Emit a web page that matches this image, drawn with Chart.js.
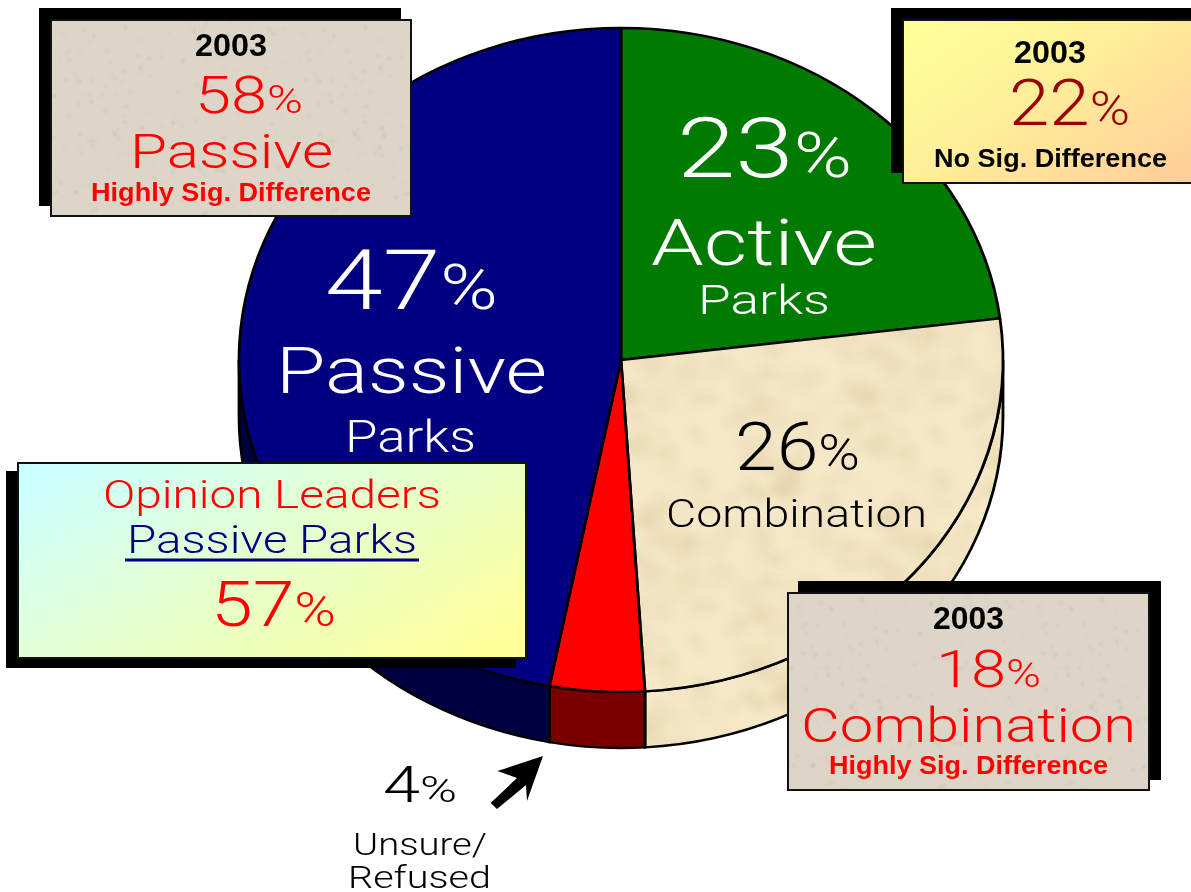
<!DOCTYPE html>
<html>
<head>
<meta charset="utf-8">
<title>Passive and active parks</title>
<script src="https://cdn.jsdelivr.net/npm/chart.js@4"></script>
<style>
html, body { margin: 0; padding: 0; background: #fff; }
#page { position: relative; width: 1191px; height: 892px; overflow: hidden; }
#pie, #labels { position: absolute; left: 0; top: 0; }
.box { position: absolute; box-sizing: border-box; border: 2px solid #111; }
#box1 { left: 50px; top: 19px; width: 362px; height: 198px; box-shadow: -11px -11px 0 #000; }
#box2 { left: 902px; top: 19px; width: 300px; height: 165px; box-shadow: -11px -11px 0 #000;
        background: linear-gradient(145deg, #ffff99 5%, #ffee99 45%, #ffcc99 100%); }
#box3 { left: 17px; top: 462px; width: 510px; height: 197px; box-shadow: -11px 9px 0 #000;
        background: linear-gradient(150deg, #ccffff 5%, #e6ffcc 50%, #ffff99 95%); }
#box4 { left: 787px; top: 592px; width: 363px; height: 199px; box-shadow: 11px -11px 0 #000; }
</style>
</head>
<body>
<div id="page">
  <canvas id="pie" width="1191" height="892"></canvas>
  <div class="box" id="box1"></div>
  <div class="box" id="box2"></div>
  <div class="box" id="box3"></div>
  <div class="box" id="box4"></div>
  <svg id="labels" width="1191" height="892" xmlns="http://www.w3.org/2000/svg">
    <polygon fill="#000" points="543,756 497.5,771 517,778 490.6,803 497,809 526,785 527,801"></polygon>
    <rect x="125" y="558.5" width="294" height="3" fill="#000080"></rect>
  </svg>
</div>
<script>
// survey results
var categories = ['Active', 'Combination', 'Unsure/Refused', 'Passive'];
var shares = [23, 26, 4, 47];
var sliceColors = ['#007a00', null, '#ff0000', '#000080'];
var wallColors = ['#005000', null, '#7a0000', '#000040'];

// 2003 comparison + opinion leaders
var year = '2003';
var passive2003 = 58;
var none2003 = 22;
var combination2003 = 18;
var opinionLeaders = 57;

// paper texture for the beige parts, blotches wrap round so the tile has no seams
function paperTile(base, speck, count, size, blur, strength) {
    var tile = document.createElement('canvas');
    tile.width = tile.height = 240;
    var c = tile.getContext('2d');
    c.fillStyle = base;
    c.fillRect(0, 0, 240, 240);
    c.filter = 'blur(' + blur + 'px)';
    c.fillStyle = speck;
    var seed = 4711;
    function next() {
        seed = (seed * 16807) % 2147483647;
        return seed / 2147483647;
    }
    for (var i = 0; i < count; i++) {
        var x = next() * 240, y = next() * 240, r = 0.5 + next() * size;
        c.globalAlpha = next() * strength;
        [-240, 0, 240].forEach(function (ox) {
            [-240, 0, 240].forEach(function (oy) {
                if (x + ox < -30 || x + ox > 270 || y + oy < -30 || y + oy > 270) return;
                c.beginPath();
                c.arc(x + ox, y + oy, r, 0, Math.PI * 2);
                c.fill();
            });
        });
    }
    return tile;
}

var beigeTile = paperTile('#f6e9c9', '#dcc89c', 220, 14, 5, 0.3);
var greyUrl = 'url(' + paperTile('#ddd6c8', '#b3ada0', 420, 1.6, 1, 0.45).toDataURL() + ')';
document.getElementById('box1').style.backgroundImage = greyUrl;
document.getElementById('box4').style.backgroundImage = greyUrl;

var ctx = document.getElementById('pie').getContext('2d');
var beige = ctx.createPattern(beigeTile, 'repeat');
sliceColors[1] = beige;
wallColors[1] = beige;

var squash = 332 / 382;
var depth = 56 / squash;
var centerY = 360;

// the picture is a tilted pie: squash the arcs and draw the side wall first
var tiltPlugin = {
    id: 'tilt',
    beforeDatasetsDraw: function (chart) {
        var c = chart.ctx;
        var arcs = chart.getDatasetMeta(0).data;
        c.save();
        c.translate(0, centerY - arcs[0].y * squash);
        c.scale(1, squash);
        arcs.forEach(function (arc, i) {
            var a0 = Math.max(arc.startAngle, 0);
            var a1 = Math.min(arc.endAngle, Math.PI);
            if (a1 <= a0) return;
            c.beginPath();
            c.arc(arc.x, arc.y, arc.outerRadius, a0, a1);
            c.arc(arc.x, arc.y + depth, arc.outerRadius, a1, a0, true);
            c.closePath();
            c.fillStyle = wallColors[i];
            c.fill();
            c.lineWidth = 2.8;
            c.strokeStyle = '#000';
            c.stroke();
        });
    },
    afterDatasetsDraw: function (chart) {
        chart.ctx.restore();
    }
};

new Chart(ctx, {
    type: 'pie',
    data: {
        labels: categories,
        datasets: [{
            data: shares,
            backgroundColor: sliceColors,
            borderColor: '#000',
            borderWidth: 2.8,
            radius: 382,
            clip: false
        }]
    },
    options: {
        responsive: false,
        animation: false,
        layout: { padding: { left: 51 } },
        plugins: { legend: { display: false }, tooltip: { enabled: false } }
    },
    plugins: [tiltPlugin]
});

// text, fitted between x0 and x1 and sitting on the given baseline
var svg = document.getElementById('labels');
function put(str, x0, x1, base, size, color, bold, pct) {
    var t = document.createElementNS(svg.namespaceURI, 'text');
    t.setAttribute('x', x0);
    t.setAttribute('y', base);
    t.setAttribute('textLength', x1 - x0);
    t.setAttribute('lengthAdjust', 'spacingAndGlyphs');
    t.setAttribute('fill', color);
    t.setAttribute('font-size', size);
    t.setAttribute('font-family', bold ? 'Liberation Sans' : 'Roboto, sans-serif');
    t.setAttribute('font-weight', bold ? '700' : '300');
    t.textContent = str;
    if (pct) {
        var s = document.createElementNS(svg.namespaceURI, 'tspan');
        s.setAttribute('font-size', size * 0.75);
        s.textContent = '%';
        t.appendChild(s);
    }
    svg.appendChild(t);
}

put(shares[3] + '', 325, 498, 309, 84, '#fff', false, true);
put(categories[3], 276, 547, 393, 65, '#fff');
put('Parks', 345, 476, 452, 45, '#fff');
put(shares[0] + '', 677, 852, 177, 84, '#fff', false, true);
put(categories[0], 651, 877, 265, 65, '#fff');
put('Parks', 698, 830, 314, 40, '#fff');
put(shares[1] + '', 735, 860, 470, 66, '#000', false, true);
put(categories[1], 666, 927, 527, 38, '#000');
put(shares[2] + '', 383, 457, 802, 50, '#000', false, true);
put('Unsure/', 353, 487, 855, 31, '#000');
put('Refused', 348, 491, 888, 31, '#000');

put(year, 195, 267, 56, 32, '#000', true);
put(passive2003 + '', 195, 303, 113, 52, '#ff0000', false, true);
put('Passive', 130, 333, 168, 49, '#ff0000');
put('Highly Sig. Difference', 91, 371, 201, 26, '#ff0000', true);

put(year, 1014, 1086, 63, 32, '#000', true);
put(none2003 + '', 1009, 1130, 125, 64, '#990000', false, true);
put('No Sig. Difference', 934, 1167, 167, 26, '#000', true);

put('Opinion Leaders', 103, 441, 508, 38, '#ff0000');
put('Passive Parks', 127, 417, 553, 38, '#000080');
put(opinionLeaders + '', 211, 336, 626, 63, '#ff0000', false, true);

put(year, 933, 1004, 629, 32, '#000', true);
put(combination2003 + '', 936, 1041, 687, 52, '#ff0000', false, true);
put('Combination', 801, 1136, 742, 49, '#ff0000');
put('Highly Sig. Difference', 829, 1108, 774, 26, '#ff0000', true);
</script>
</body>
</html>
